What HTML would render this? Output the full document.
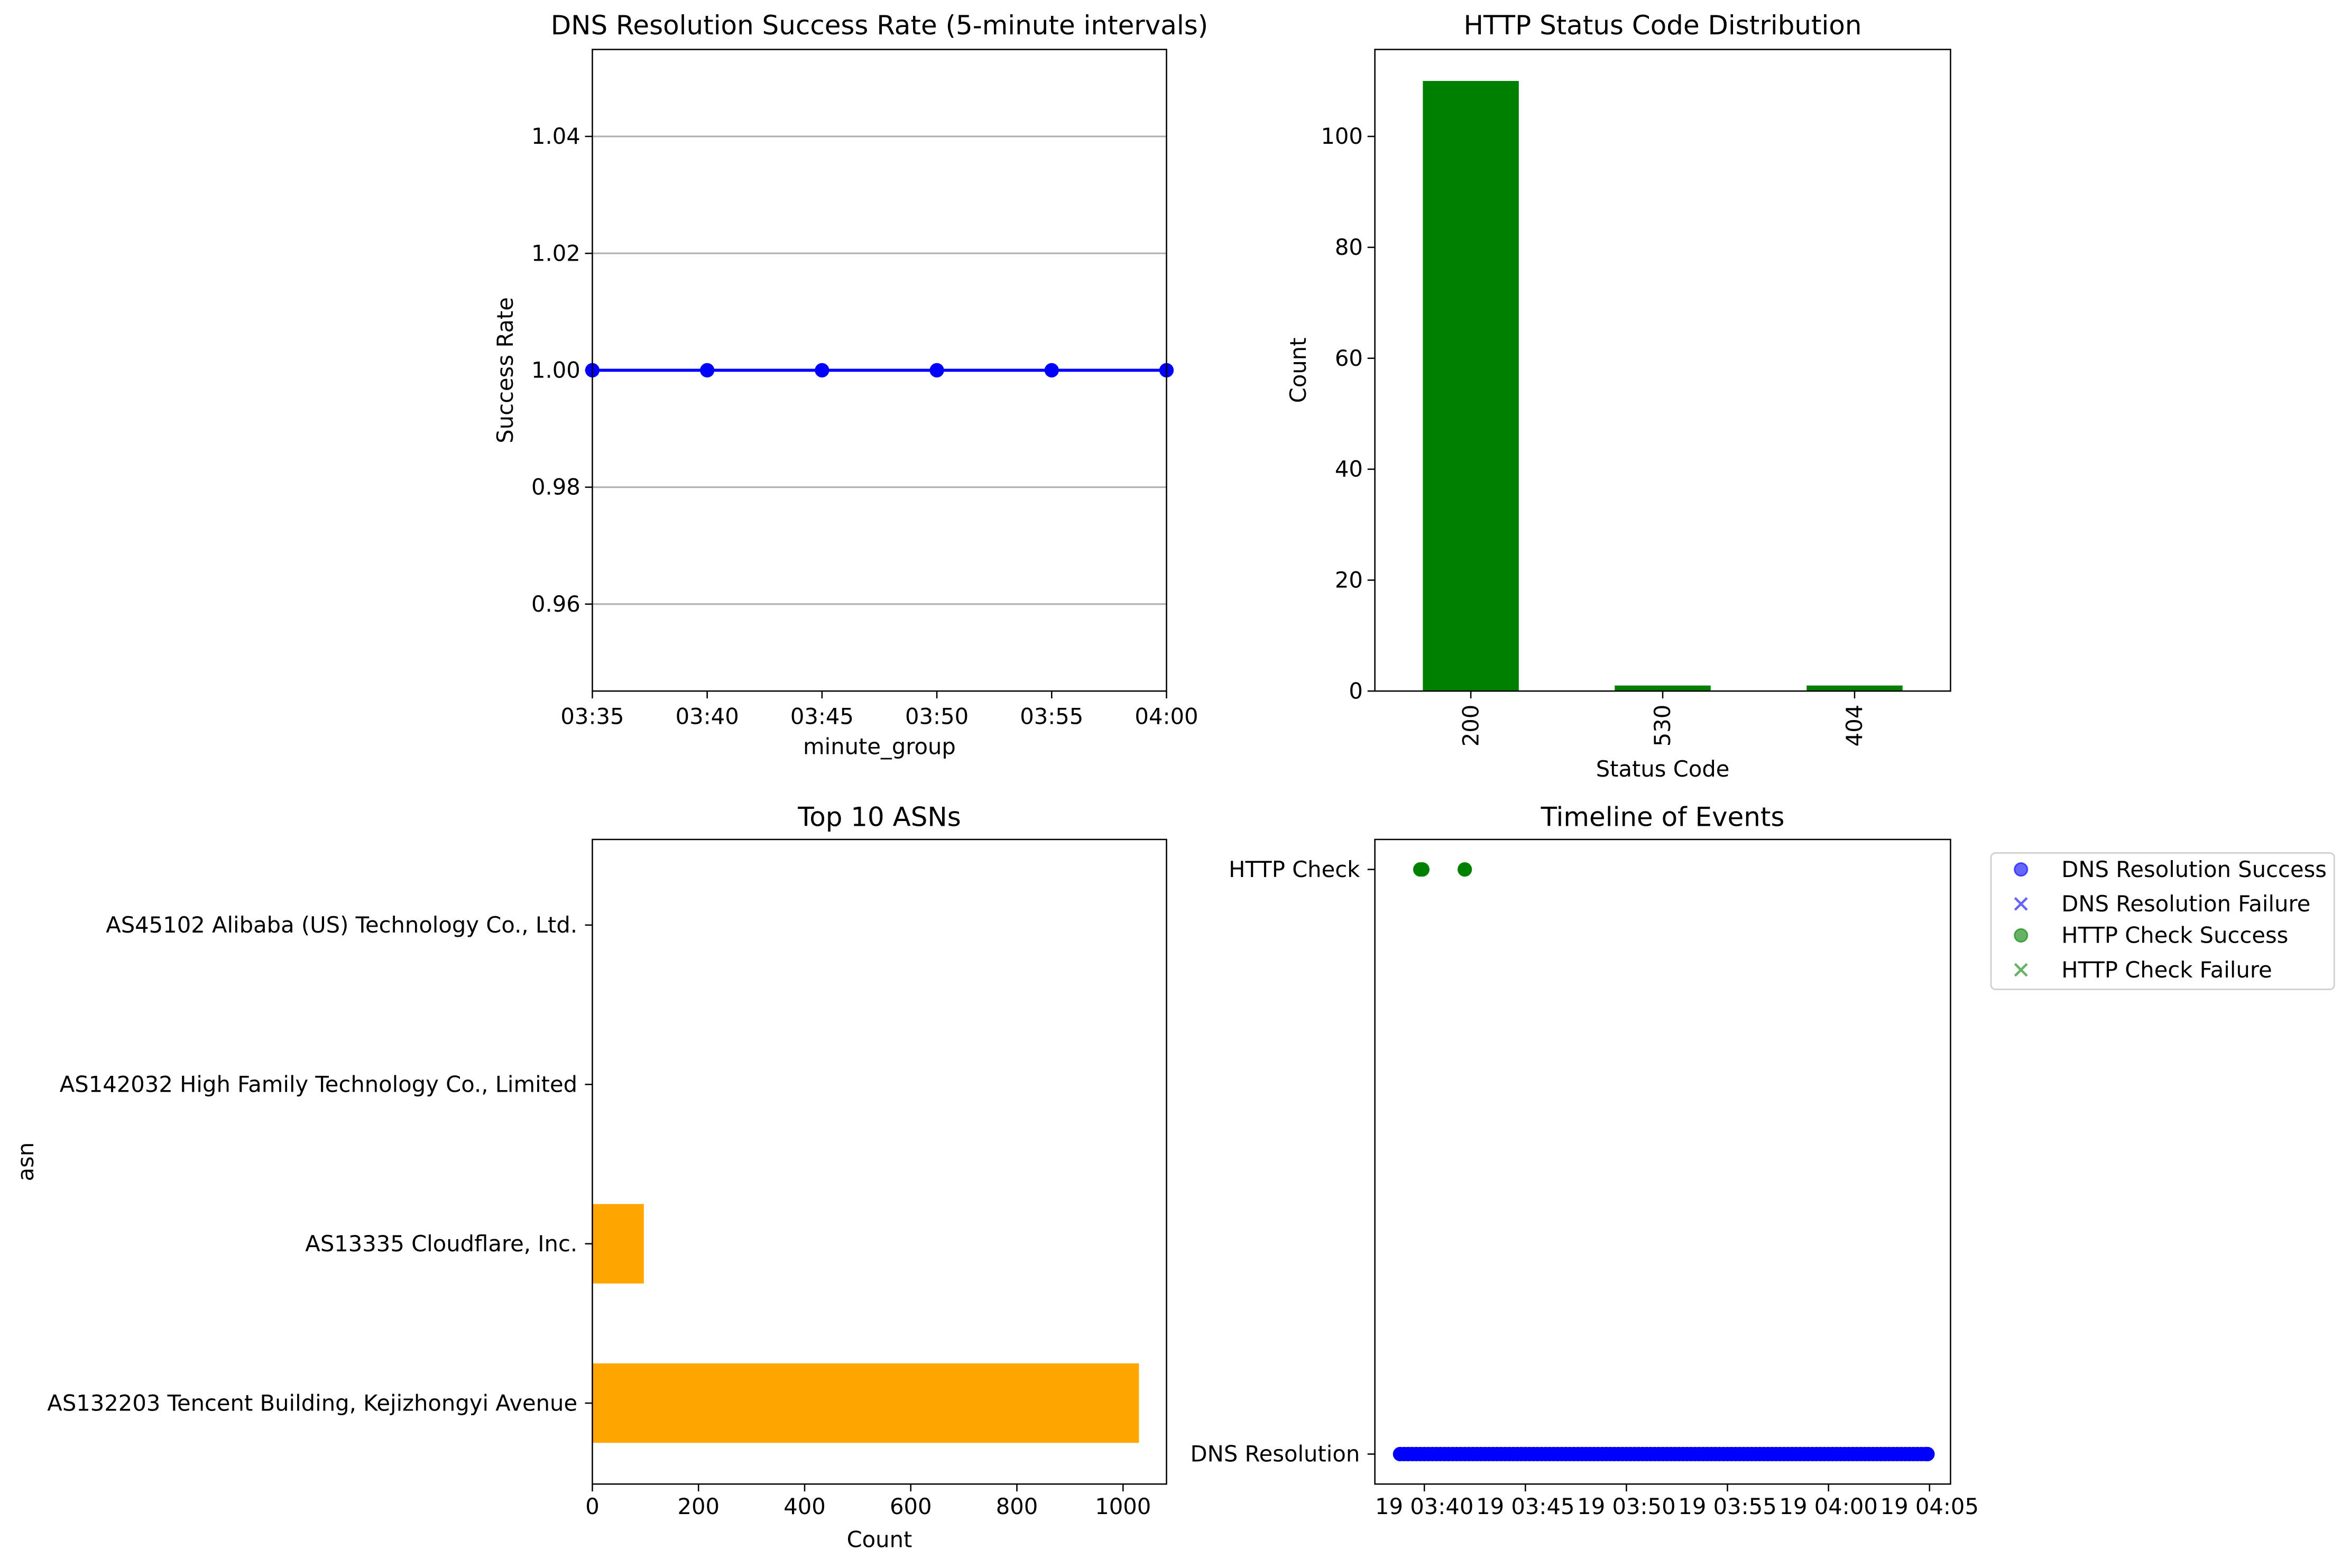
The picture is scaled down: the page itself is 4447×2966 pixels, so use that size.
<!DOCTYPE html>
<html><head><meta charset="utf-8">
<style>
html,body{margin:0;padding:0;background:#fff;}
svg{display:block;}
text{font-family:"DejaVu Sans","Liberation Sans",sans-serif;fill:#000;}
</style></head>
<body>
<svg id="fig" width="4447" height="2966" viewBox="0 0 1568 1046" xmlns="http://www.w3.org/2000/svg">
<rect width="1568" height="1046" fill="#fff"/>
<g id="g1"></g>
<g id="g2"></g>
<g id="g3"></g>
<g id="g4"></g>
</svg>
<script>
// ---- Chart 1 data
const rateTimes = [0, 5, 10, 15, 20, 25]; // minutes after 03:35
const rateValues = [1.0, 1.0, 1.0, 1.0, 1.0, 1.0];
const rateTickLabels = ["03:35","03:40","03:45","03:50","03:55","04:00"];
const rateYTicks = [0.96, 0.98, 1.00, 1.02, 1.04];
// ---- Chart 2 data
const statusCodes = ["200","530","404"];
const statusCounts = [110, 1, 1];
const statusYTicks = [0,20,40,60,80,100];
// ---- Chart 3 data
const asnNames = ["AS132203 Tencent Building, Kejizhongyi Avenue","AS13335 Cloudflare, Inc.","AS142032 High Family Technology Co., Limited","AS45102 Alibaba (US) Technology Co., Ltd."];
const asnCounts = [1030, 97, 1, 1];
const asnXTicks = [0,200,400,600,800,1000];
// ---- Chart 4 data (minutes after 03:35)
const dnsTimes = [3.8,4.0,4.2,4.4,4.6,4.8,5.0,5.2,5.4,5.6,5.8,6.0,6.2,6.4,6.6,6.8,7.0,7.2,7.4,7.6,7.8,8.0,8.2,8.4,8.6,8.8,9.0,9.2,9.4,9.6,9.8,10.0,10.2,10.4,10.6,10.8,11.0,11.2,11.4,11.6,11.8,12.0,12.2,12.4,12.6,12.8,13.0,13.2,13.4,13.6,13.8,14.0,14.2,14.4,14.6,14.8,15.0,15.2,15.4,15.6,15.8,16.0,16.2,16.4,16.6,16.8,17.0,17.2,17.4,17.6,17.8,18.0,18.2,18.4,18.6,18.8,19.0,19.2,19.4,19.6,19.8,20.0,20.2,20.4,20.6,20.8,21.0,21.2,21.4,21.6,21.8,22.0,22.2,22.4,22.6,22.8,23.0,23.2,23.4,23.6,23.8,24.0,24.2,24.4,24.6,24.8,25.0,25.2,25.4,25.6,25.8,26.0,26.2,26.4,26.6,26.8,27.0,27.2,27.4,27.6,27.8,28.0,28.2,28.4,28.6,28.8,29.0,29.2,29.4,29.6,29.8,29.9];
const httpTimes = [4.8, 4.9, 7.0];
const timelineTickLabels = ["19 03:40","19 03:45","19 03:50","19 03:55","19 04:00","19 04:05"];
const timelineTickMins = [5,10,15,20,25,30];
const legendLabels = ["DNS Resolution Success","DNS Resolution Failure","HTTP Check Success","HTTP Check Failure"];

const NS="http://www.w3.org/2000/svg";
function el(parent, tag, attrs, txt){
  const e=document.createElementNS(NS,tag);
  for(const k in attrs) e.setAttribute(k,attrs[k]);
  if(txt!==undefined) e.textContent=txt;
  parent.appendChild(e); return e;
}
function frame(g,x0,y0,x1,y1){
  const r=el(g,'rect',{x:x0,y:y0,width:x1-x0,height:y1-y0,fill:'none',stroke:'#000','stroke-width':0.9});
  
  
}
function title(g,cx,y,s){
  const t=el(g,'text',{x:cx,y:y,'font-size':17.6,'text-anchor':'middle'},s);
  
  
}
const FS=14.7;

// ===== Chart 1
(function(){
  const g=document.getElementById('g1');
  const X0=395,X1=778,Y0=33,Y1=461;
  const xs=m=>X0+(m-0)/(25)*(X1-X0);
  const ys=v=>247-(v-1.0)*3900;
  rateYTicks.forEach(v=>{
    const gl=el(g,'line',{x1:X0,x2:X1,y1:ys(v),y2:ys(v),stroke:'#b0b0b0','stroke-width':1.1});
    
    
    el(g,'line',{x1:X0-4.9,x2:X0,y1:ys(v),y2:ys(v),stroke:'#000','stroke-width':0.9});
    const t=el(g,'text',{x:X0-8,y:ys(v)+5,'font-size':FS,'text-anchor':'end'},v.toFixed(2));
    
    
  });
  rateTickLabels.forEach((s,i)=>{
    const x=xs(rateTimes[i]);
    el(g,'line',{x1:x,x2:x,y1:Y1,y2:Y1+4.9,stroke:'#000','stroke-width':0.9});
    const t=el(g,'text',{x:x,y:Y1+22,'font-size':FS,'text-anchor':'middle'},s);
    
    
  });
  const pts=rateTimes.map((m,i)=>xs(m)+','+ys(rateValues[i])).join(' ');
  const pl=el(g,'polyline',{points:pts,fill:'none',stroke:'#0000ff','stroke-width':2});
  
  
  rateTimes.forEach((m,i)=>{
    const c=el(g,'circle',{cx:xs(m),cy:ys(rateValues[i]),r:4.8,fill:'#0000ff'});
    
    
  });
  frame(g,X0,Y0,X1,Y1);
  title(g,(X0+X1)/2,23,'DNS Resolution Success Rate (5-minute intervals)');
  const xl=el(g,'text',{x:(X0+X1)/2,y:503,'font-size':FS,'text-anchor':'middle'},'minute_group');
  
  
  const yl=el(g,'text',{x:0,y:0,'font-size':FS,'text-anchor':'middle',transform:'translate(342,247) rotate(-90)'},'Success Rate');
  
  
})();

// ===== Chart 2
(function(){
  const g=document.getElementById('g2');
  const X0=917,X1=1301,Y0=33,Y1=461;
  const ys=v=>Y1-v*3.7;
  const step=128, c0=981, bw=64;
  statusYTicks.forEach(v=>{
    el(g,'line',{x1:X0-4.9,x2:X0,y1:ys(v),y2:ys(v),stroke:'#000','stroke-width':0.9});
    const t=el(g,'text',{x:X0-8,y:ys(v)+5,'font-size':FS,'text-anchor':'end'},String(v));
    
    
  });
  statusCodes.forEach((s,i)=>{
    const cx=c0+i*step;
    const b=el(g,'rect',{x:cx-bw/2,y:ys(statusCounts[i]),width:bw,height:statusCounts[i]*3.7,fill:'#008000'});
    
    
    el(g,'line',{x1:cx,x2:cx,y1:Y1,y2:Y1+4.9,stroke:'#000','stroke-width':0.9});
    const t=el(g,'text',{x:0,y:0,'font-size':FS,'text-anchor':'end',transform:`translate(${cx+5},${Y1+9}) rotate(-90)`},s);
    
    
  });
  frame(g,X0,Y0,X1,Y1);
  title(g,(X0+X1)/2,23,'HTTP Status Code Distribution');
  const xl=el(g,'text',{x:(X0+X1)/2,y:518,'font-size':FS,'text-anchor':'middle'},'Status Code');
  
  
  const yl=el(g,'text',{x:0,y:0,'font-size':FS,'text-anchor':'middle',transform:'translate(871,247) rotate(-90)'},'Count');
  
  
})();

// ===== Chart 3
(function(){
  const g=document.getElementById('g3');
  const X0=395,X1=778,Y0=560,Y1=990;
  const xs=v=>X0+v*0.354;
  const yc=i=>936-i*106.3;
  const bh=53;
  asnNames.forEach((s,i)=>{
    const b=el(g,'rect',{x:X0,y:yc(i)-bh/2,width:xs(asnCounts[i])-X0,height:bh,fill:'#ffa500'});
    
    
    el(g,'line',{x1:X0-4.9,x2:X0,y1:yc(i),y2:yc(i),stroke:'#000','stroke-width':0.9});
    const t=el(g,'text',{x:X0-10,y:yc(i)+5,'font-size':FS,'text-anchor':'end'},s);
    
    
  });
  asnXTicks.forEach(v=>{
    el(g,'line',{x1:xs(v),x2:xs(v),y1:Y1,y2:Y1+4.9,stroke:'#000','stroke-width':0.9});
    const t=el(g,'text',{x:xs(v),y:Y1+20,'font-size':FS,'text-anchor':'middle'},String(v));
    
    
  });
  frame(g,X0,Y0,X1,Y1);
  title(g,(X0+X1)/2,551,'Top 10 ASNs');
  const xl=el(g,'text',{x:(X0+X1)/2,y:1032,'font-size':FS,'text-anchor':'middle'},'Count');
  
  
  const yl=el(g,'text',{x:0,y:0,'font-size':FS,'text-anchor':'middle',transform:'translate(22,775) rotate(-90)'},'asn');
  
  
})();

// ===== Chart 4
(function(){
  const g=document.getElementById('g4');
  const X0=917,X1=1301,Y0=560,Y1=990;
  const xs=m=>950+(m-5)*13.48;
  const yHttp=580, yDns=970;
  dnsTimes.forEach(m=>{
    const c=el(g,'circle',{cx:xs(m),cy:yDns,r:4.8,fill:'#0000ff'});
    
    
  });
  httpTimes.forEach(m=>{
    const c=el(g,'circle',{cx:xs(m),cy:yHttp,r:4.8,fill:'#008000'});
    
    
  });
  [[yHttp,'HTTP Check'],[yDns,'DNS Resolution']].forEach(([y,s])=>{
    el(g,'line',{x1:X0-4.9,x2:X0,y1:y,y2:y,stroke:'#000','stroke-width':0.9});
    const t=el(g,'text',{x:X0-10,y:y+5,'font-size':FS,'text-anchor':'end'},s);
    
    
  });
  timelineTickLabels.forEach((s,i)=>{
    const x=xs(timelineTickMins[i]);
    el(g,'line',{x1:x,x2:x,y1:Y1,y2:Y1+4.9,stroke:'#000','stroke-width':0.9});
    const t=el(g,'text',{x:x,y:Y1+20,'font-size':FS,'text-anchor':'middle'},s);
    
    
  });
  frame(g,X0,Y0,X1,Y1);
  title(g,(X0+X1)/2,551,'Timeline of Events');
  // legend
  const lg=el(g,'g',{});
  
  
  el(lg,'rect',{x:1328,y:569,width:229,height:91,rx:3,fill:'#fff',stroke:'#d0d0d0','stroke-width':1});
  const ly=[580,603,624,647];
  const cols=['#0000ff','#0000ff','#008000','#008000'];
  legendLabels.forEach((s,i)=>{
    const e=el(lg,'g',{});
    
    
    const x=1348,y=ly[i];
    if(i%2===0){
      el(e,'circle',{cx:x,cy:y,r:4.3,fill:cols[i],'fill-opacity':0.6,stroke:cols[i],'stroke-opacity':0.6});
    } else {
      el(e,'path',{d:`M${x-4} ${y-4}L${x+4} ${y+4}M${x-4} ${y+4}L${x+4} ${y-4}`,stroke:cols[i],'stroke-opacity':0.6,'stroke-width':1.6});
    }
    el(e,'text',{x:1375,y:y+5,'font-size':FS},s);
  });
})();
</script>
</body></html>
